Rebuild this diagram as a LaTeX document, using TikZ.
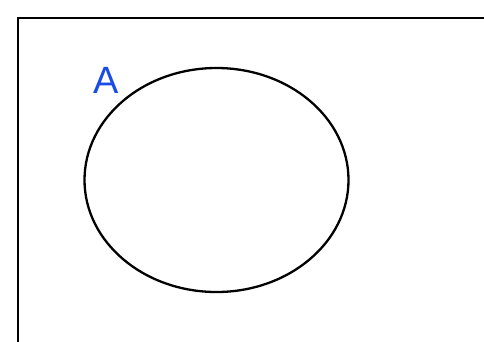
\documentclass[tikz,border=0pt]{standalone}
\usepackage{fontspec}
\setmainfont{Liberation Sans}
\usetikzlibrary{shapes.geometric}
\definecolor{labelblue}{RGB}{25,75,235}
\tikzset{
  frame/.style={draw=black,line width=2.8pt},
  setshape/.style={draw=black,line width=2.3pt,ellipse,inner sep=0pt,minimum width=264pt,minimum height=224pt},
  setlabel/.style={text=labelblue,font=\fontsize{38}{38}\selectfont,inner sep=0pt}
}
\begin{document}
\begin{tikzpicture}[x=1pt,y=-1pt]
\useasboundingbox (0,0) rectangle (484,341);
\clip (0,0) rectangle (484,341);
\draw[frame] (18,18) rectangle (520,380);
\node[setshape] (setA) at (216.5,180) {};
\node[setlabel,anchor=south] (labA) at (106,93.5) {A};
\end{tikzpicture}
\end{document}
